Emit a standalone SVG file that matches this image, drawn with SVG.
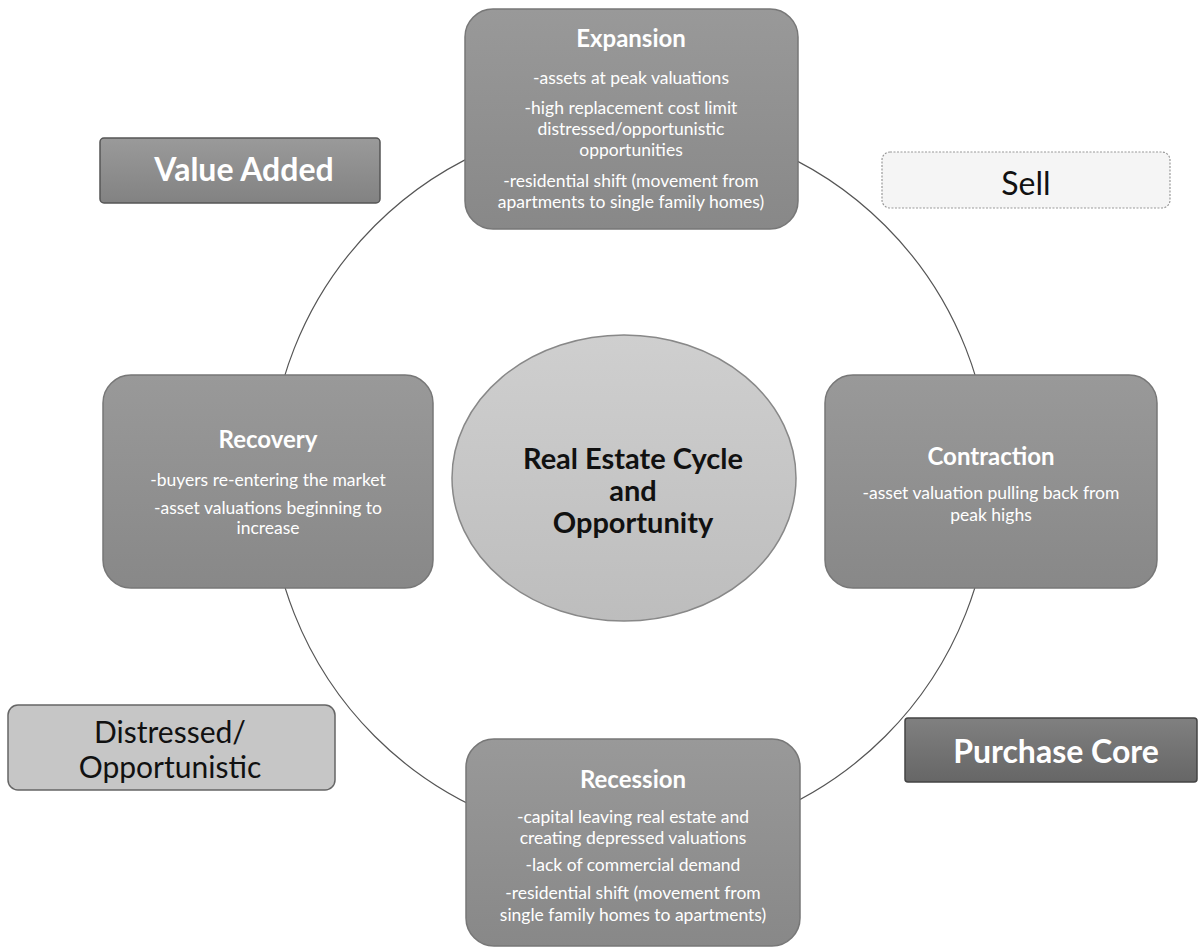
<svg xmlns="http://www.w3.org/2000/svg" width="1204" height="952" viewBox="0 0 1204 952">
<defs>
<linearGradient id="gBox" x1="0" y1="0" x2="0" y2="1"><stop offset="0" stop-color="#999"/><stop offset="1" stop-color="#888"/></linearGradient>
<linearGradient id="gEll" x1="0" y1="0" x2="0" y2="1"><stop offset="0" stop-color="#cfcfcf"/><stop offset="1" stop-color="#bdbdbd"/></linearGradient>
<linearGradient id="gVA" x1="0" y1="0" x2="0" y2="1"><stop offset="0" stop-color="#9a9a9a"/><stop offset="1" stop-color="#828282"/></linearGradient>
<linearGradient id="gPC" x1="0" y1="0" x2="0" y2="1"><stop offset="0" stop-color="#808080"/><stop offset="1" stop-color="#666"/></linearGradient>
<style>
.box{fill:url(#gBox);stroke:#777;stroke-width:1.5}
.t{font-family:Lato,"Liberation Sans",sans-serif;text-anchor:middle}
.title{font-size:24px;font-weight:bold;fill:#fff}
.body{font-size:17.5px;fill:#fff}
.big{font-size:32px}
</style>
</defs>
<rect width="1204" height="952" fill="#fff"/>
<g id="connectors">
<circle cx="630" cy="481" r="361" fill="none" stroke="#555" stroke-width="1.2"/>
</g>
<g id="center">
<ellipse cx="624" cy="478" rx="172" ry="143" fill="url(#gEll)" stroke="#888" stroke-width="1.5"/>
<text class="t" font-size="29" font-weight="bold" fill="#111"><tspan x="633" y="469">Real Estate Cycle</tspan><tspan x="633" y="501">and</tspan><tspan x="633" y="533">Opportunity</tspan></text>
</g>
<g id="expansion">
<rect class="box" x="465" y="9" width="333" height="220" rx="28"/>
<text class="t title" x="631" y="47">Expansion</text>
<text class="t body"><tspan x="631" y="84">-assets at peak valuations</tspan><tspan x="631" y="114">-high replacement cost limit</tspan><tspan x="631" y="135">distressed/opportunistic</tspan><tspan x="631" y="156">opportunities</tspan><tspan x="631" y="187">-residential shift (movement from</tspan><tspan x="631" y="208">apartments to single family homes)</tspan></text>
</g>
<g id="recovery">
<rect class="box" x="103" y="375" width="330" height="213" rx="28"/>
<text class="t title" x="268" y="448">Recovery</text>
<text class="t body"><tspan x="268" y="486">-buyers re-entering the market</tspan><tspan x="268" y="514">-asset valuations beginning to</tspan><tspan x="268" y="534">increase</tspan></text>
</g>
<g id="contraction">
<rect class="box" x="825" y="375" width="332" height="213" rx="28"/>
<text class="t title" x="991" y="465">Contraction</text>
<text class="t body"><tspan x="991" y="499">-asset valuation pulling back from</tspan><tspan x="991" y="521">peak highs</tspan></text>
</g>
<g id="recession">
<rect class="box" x="466" y="739" width="334" height="207" rx="28"/>
<text class="t title" x="633" y="788">Recession</text>
<text class="t body"><tspan x="633" y="823">-capital leaving real estate and</tspan><tspan x="633" y="844">creating depressed valuations</tspan><tspan x="633" y="871">-lack of commercial demand</tspan><tspan x="633" y="899">-residential shift (movement from</tspan><tspan x="633" y="921">single family homes to apartments)</tspan></text>
</g>
<g id="value-added">
<rect x="100" y="138" width="280" height="65" rx="4" fill="url(#gVA)" stroke="#555" stroke-width="1.5"/>
<text class="t big" x="244" y="181" font-weight="bold" fill="#fff">Value Added</text>
</g>
<g id="sell">
<rect x="882" y="152" width="288" height="56" rx="8" fill="#f5f5f5" stroke="#999" stroke-width="1.2" stroke-dasharray="2 1.5"/>
<text class="t big" x="1026" y="195" fill="#111">Sell</text>
</g>
<g id="distressed">
<rect x="8" y="705" width="327" height="85" rx="10" fill="#c6c6c6" stroke="#666" stroke-width="1.5"/>
<text class="t" font-size="30" fill="#111"><tspan x="170" y="743">Distressed/</tspan><tspan x="170" y="778">Opportunistic</tspan></text>
</g>
<g id="purchase-core">
<rect x="905" y="718" width="292" height="64" rx="3" fill="url(#gPC)" stroke="#444" stroke-width="1.5"/>
<text class="t big" x="1056" y="763" font-weight="bold" fill="#fff">Purchase Core</text>
</g>
</svg>
